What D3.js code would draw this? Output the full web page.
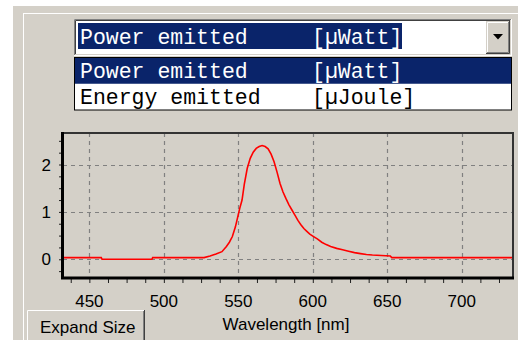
<!DOCTYPE html>
<html>
<head>
<meta charset="utf-8">
<script src="https://cdn.jsdelivr.net/npm/d3@7"></script>
<style>
  html, body { margin: 0; padding: 0; background: #ffffff; }
  svg { display: block; }
  text { white-space: pre; }
</style>
</head>
<body>
<script>
// ---- data ----
const optionNames = ["Power emitted", "Energy emitted"];
const optionUnits = ["[µWatt]", "[µJoule]"];
const selectedIndex = 0;

const xTickValues = [450, 500, 550, 600, 650, 700];
const yTickValues = [0, 1, 2];
const xLabel = "Wavelength [nm]";
const buttonLabel = "Expand Size";

const wavelength = [432, 458, 458.5, 492, 492.5, 527, 531, 535, 539, 542, 544, 546, 548, 549.5, 551, 552.5, 554, 556, 558, 560, 562, 564, 566, 568, 570, 572, 574, 576, 578, 580, 582, 584, 586, 588, 590, 592, 594, 596, 598, 600, 603, 606, 609, 612, 616, 620, 624, 628, 632, 636, 640, 646, 652, 653, 734.4];
const power = [0.035, 0.035, 0.0, 0.0, 0.035, 0.035, 0.07, 0.11, 0.16, 0.27, 0.36, 0.48, 0.68, 0.88, 1.08, 1.25, 1.58, 1.92, 2.13, 2.26, 2.34, 2.38, 2.40, 2.38, 2.33, 2.22, 2.06, 1.84, 1.60, 1.42, 1.28, 1.15, 1.04, 0.93, 0.82, 0.73, 0.65, 0.59, 0.53, 0.49, 0.43, 0.36, 0.31, 0.27, 0.23, 0.20, 0.17, 0.14, 0.12, 0.10, 0.09, 0.08, 0.07, 0.035, 0.035];

// ---- drawing ----
const W = 521, H = 340;
const panel = "#d4d0c8", navy = "#0a246a";
const svg = d3.select("body").append("svg").attr("width", W).attr("height", H);

// window panel
svg.append("rect").attr("x", 0).attr("y", 0).attr("width", W).attr("height", H).attr("fill", "#ffffff");
svg.append("rect").attr("x", 13).attr("y", 6).attr("width", 505).attr("height", H - 6).attr("fill", panel);
svg.append("line").attr("x1", 23).attr("x2", 518).attr("y1", 13.5).attr("y2", 13.5).attr("stroke", "#ffffff");
svg.append("line").attr("x1", 23.5).attr("x2", 23.5).attr("y1", 13).attr("y2", H).attr("stroke", "#ffffff");

// combo box
const combo = svg.append("g");
combo.append("rect").attr("x", 74).attr("y", 19).attr("width", 438).attr("height", 37).attr("fill", "#ffffff");
combo.append("path").attr("d", "M74.5,55 V19.5 H511").attr("fill", "none").attr("stroke", "#808080");
combo.append("path").attr("d", "M75.5,54 V20.5 H510").attr("fill", "none").attr("stroke", "#404040");
combo.append("path").attr("d", "M75,54.5 H510.5 V20").attr("fill", "none").attr("stroke", panel);
combo.append("rect").attr("x", 78).attr("y", 23).attr("width", 324).attr("height", 26).attr("fill", navy);
const monoFont = "'Liberation Mono', 'DejaVu Sans Mono', monospace";
combo.append("text").attr("x", 80).attr("y", 44).attr("fill", "#ffffff")
  .attr("font-family", monoFont).attr("font-size", 21.5).text(optionNames[selectedIndex]);
combo.append("text").attr("x", 312).attr("y", 44).attr("fill", "#ffffff")
  .attr("font-family", monoFont).attr("font-size", 21.5).text(optionUnits[selectedIndex]);
// drop button
const bx = 486, by = 21, bw = 24, bh = 33;
combo.append("rect").attr("x", bx).attr("y", by).attr("width", bw).attr("height", bh).attr("fill", panel);
combo.append("path").attr("d", `M${bx+0.5},${by+bh} V${by+0.5} H${bx+bw}`).attr("fill", "none").attr("stroke", panel);
combo.append("path").attr("d", `M${bx+1.5},${by+bh-1} V${by+1.5} H${bx+bw-1}`).attr("fill", "none").attr("stroke", "#ffffff");
combo.append("path").attr("d", `M${bx},${by+bh-0.5} H${bx+bw-0.5} V${by}`).attr("fill", "none").attr("stroke", "#404040");
combo.append("path").attr("d", `M${bx+1},${by+bh-1.5} H${bx+bw-1.5} V${by+1}`).attr("fill", "none").attr("stroke", "#808080");
const ax = bx + bw / 2, ay = by + bh / 2 - 1;
combo.append("path").attr("d", `M${ax-5},${ay-2.5} H${ax+5} L${ax},${ay+3} Z`).attr("fill", "#000000");

// drop-down list
const list = svg.append("g");
const rowY = d3.scaleBand().domain(d3.range(optionNames.length)).range([58, 109.5]);
list.append("rect").attr("x", 74.5).attr("y", 57.5).attr("width", 437).attr("height", 52.5).attr("fill", "#ffffff").attr("stroke", "#000000");
optionNames.forEach((name, i) => {
  const sel = i === selectedIndex;
  if (sel) list.append("rect").attr("x", 75).attr("y", rowY(i)).attr("width", 436).attr("height", rowY.bandwidth()).attr("fill", navy);
  const yb = rowY(i) + rowY.bandwidth() / 2 + 7.5;
  list.append("text").attr("x", 80).attr("y", yb).attr("fill", sel ? "#ffffff" : "#000000")
    .attr("font-family", monoFont).attr("font-size", 21.5).text(name);
  list.append("text").attr("x", 312).attr("y", yb).attr("fill", sel ? "#ffffff" : "#000000")
    .attr("font-family", monoFont).attr("font-size", 21.5).text(optionUnits[i]);
});

// plot
const pLeft = 63, pRight = 513, pTop = 133, pBottom = 278;
const x = d3.scaleLinear().domain([432.3, 734.4]).range([pLeft, pRight]);
const y = d3.scaleLinear().domain([-0.395, 2.665]).range([pBottom, pTop]);
const sansFont = "'Liberation Sans', Arial, sans-serif";

const grid = svg.append("g").attr("stroke", "#808080").attr("stroke-dasharray", "4,4").attr("stroke-width", 1.2);
xTickValues.forEach(v => {
  grid.append("line").attr("x1", Math.round(x(v)) + 0.5).attr("x2", Math.round(x(v)) + 0.5)
    .attr("y1", pTop).attr("y2", pBottom);
});
yTickValues.forEach(v => {
  grid.append("line").attr("x1", pLeft).attr("x2", pRight)
    .attr("y1", Math.round(y(v)) + 0.5).attr("y2", Math.round(y(v)) + 0.5);
});

// minor/major ticks via d3 axes
const xMinor = d3.range(437.5, 734, 12.5);
const yMinor = d3.range(-0.25, 2.6, 0.25);
const xAxis = svg.append("g").attr("transform", `translate(0,${pBottom + 1})`)
  .call(d3.axisBottom(x).tickValues(xMinor).tickSize(4).tickFormat(""));
xAxis.select(".domain").remove();
xAxis.selectAll("line").attr("stroke", "#202020");
const yAxis = svg.append("g").attr("transform", `translate(${pLeft - 1},0)`)
  .call(d3.axisLeft(y).tickValues(yMinor).tickSize(3).tickFormat(""));
yAxis.select(".domain").remove();
yAxis.selectAll("line").attr("stroke", "#202020");

// tick labels
svg.append("g").selectAll("text").data(xTickValues).join("text")
  .attr("x", d => x(d)).attr("y", 307).attr("text-anchor", "middle")
  .attr("font-family", sansFont).attr("font-size", 17).attr("fill", "#000")
  .text(d => d);
svg.append("g").selectAll("text").data(yTickValues).join("text")
  .attr("x", 51).attr("y", d => y(d) + 6).attr("text-anchor", "end")
  .attr("font-family", sansFont).attr("font-size", 17).attr("fill", "#000")
  .text(d => d);
svg.append("text").attr("x", 286).attr("y", 329.5).attr("text-anchor", "middle")
  .attr("font-family", sansFont).attr("font-size", 17).attr("fill", "#000").text(xLabel);

// curve
const line = d3.line().x((d, i) => x(wavelength[i])).y(d => y(d));
svg.append("path").datum(power).attr("d", line).attr("fill", "none")
  .attr("stroke", "#ff0000").attr("stroke-width", 1.6);

// frame
svg.append("path").attr("d", `M${pLeft-1},${pTop} H${pRight} V${pBottom}`).attr("fill", "none")
  .attr("stroke", "#333333").attr("stroke-width", 2);
svg.append("path").attr("d", `M${pLeft-0.5},${pTop-1} V${pBottom} H${pRight+1}`).attr("fill", "none")
  .attr("stroke", "#000000").attr("stroke-width", 3);

// Expand Size button
const btn = svg.append("g");
btn.append("rect").attr("x", 27).attr("y", 310).attr("width", 118).attr("height", 32).attr("fill", panel);
btn.append("path").attr("d", "M27.5,342 V310.5 H144").attr("fill", "none").attr("stroke", "#ffffff");
btn.append("path").attr("d", "M144.5,310 V342").attr("fill", "none").attr("stroke", "#404040");
btn.append("path").attr("d", "M143.5,311 V342").attr("fill", "none").attr("stroke", "#808080");
btn.append("text").attr("x", 40).attr("y", 333).attr("font-family", sansFont).attr("font-size", 17)
  .attr("fill", "#000").text(buttonLabel);
</script>
</body>
</html>
